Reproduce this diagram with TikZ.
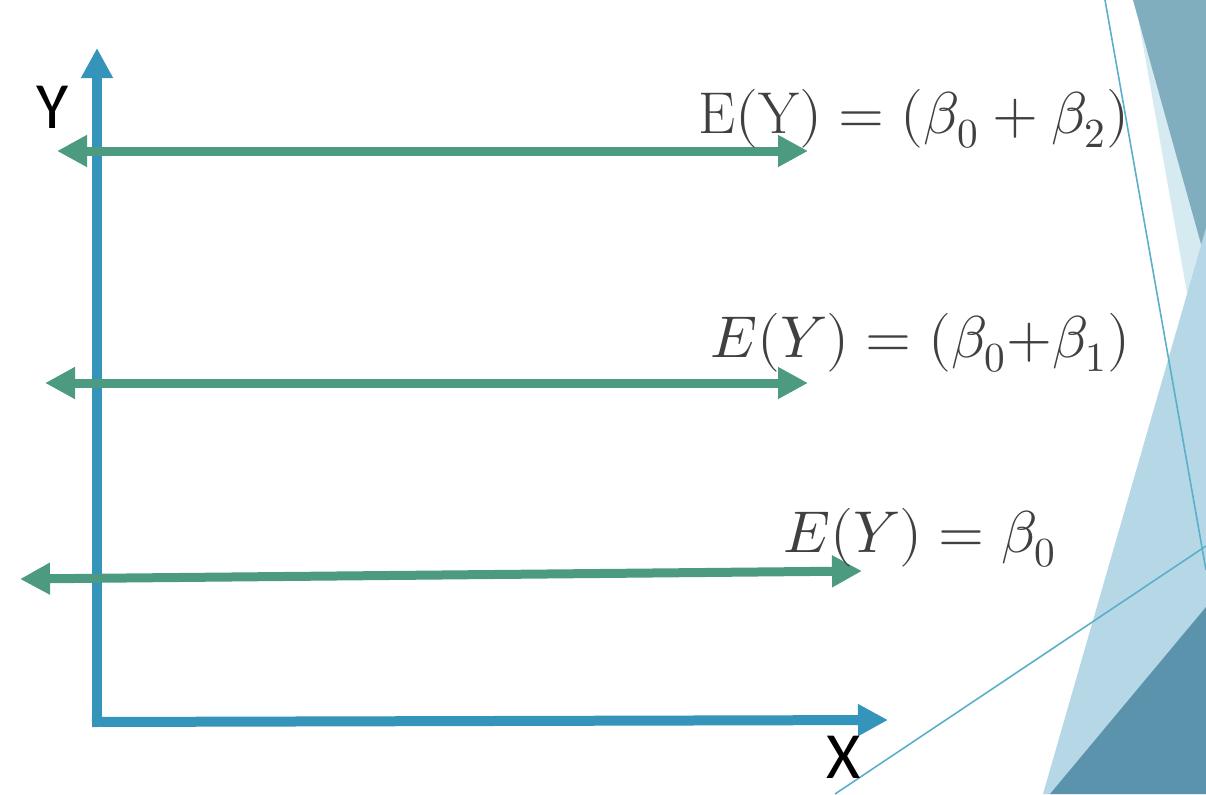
\documentclass[tikz,border=0pt]{standalone}
\usepackage{fontspec}
\usepackage{amsmath}
\usepackage{unicode-math}
\usetikzlibrary{arrows.meta}
\usetikzlibrary{positioning}
\setmathfont{Latin Modern Math}
\newfontfamily\axisfont{Carlito}
\definecolor{axisblue}{RGB}{52,148,186}
\definecolor{levelgreen}{RGB}{76,155,128}
\definecolor{eqgray}{RGB}{64,64,64}
\definecolor{facetdark}{RGB}{128,174,191}
\definecolor{facetpale}{RGB}{214,234,241}
\definecolor{facetlight}{RGB}{182,216,230}
\definecolor{facetdeep}{RGB}{91,147,173}
\definecolor{facetline}{RGB}{91,175,203}
\tikzset{%
  axisline/.style={draw=axisblue,line width=5pt,-{Triangle[length=15pt,width=15pt]}}
}
\tikzset{%
  levelline/.style={draw=levelgreen,line width=4.5pt,{Triangle[length=15pt,width=15pt]}-{Triangle[length=15pt,width=15pt]}}
}
\tikzset{%
  eqlabel/.style={text=eqgray,font=\fontsize{29.5}{34}\selectfont,inner sep=0pt}
}
\newcommand\axistext{\axisfont\fontsize{33}{38}\selectfont}
\begin{document}
\begin{tikzpicture}[x=0.5pt,y=-0.5pt]
            \useasboundingbox (0,0) rectangle (1206,794);
            % facets on the right
            \fill[facetpale] (1135,0) -- (1206,0) -- (1206,400) -- cycle;
            \fill[facetdark] (1133,0) -- (1206,0) -- (1206,262) -- cycle;
            \fill[facetlight] (1206,228) -- (1206,794) -- (1043,794) -- cycle;
            \fill[facetdeep] (1206,607) -- (1206,794) -- (1050,794) -- cycle;
            \draw[facetline,line width=0.8pt] (1105,0) -- (1206,570);
            \draw[facetline,line width=0.8pt] (835,794) -- (1206,546);

            % axes
            \coordinate (origin) at (97,722);
            \coordinate (ytop) at (97,48);
            \coordinate (xstart) at (92,722);
            \coordinate (xend) at (888,720);
            \draw[axisline] (origin) -- (ytop);
            \draw[axisline] (xstart) -- (xend);
            \node[anchor=base west,inner sep=0pt](ylabel) at (36,128){\axistext Y};
            \node[anchor=base west,inner sep=0pt](xlabel) at (826,778){\axistext X};

            % levels
            \coordinate (topl) at (57,151);
            \coordinate (topr) at (808,151);
            \coordinate (midl) at (45,383);
            \coordinate (midr) at (808,383);
            \coordinate (lowl) at (20,579);
            \coordinate (lowr) at (862,571);
            \draw[levelline] (topl) -- (topr);
            \draw[levelline] (midl) -- (midr);
            \draw[levelline] (lowl) -- (lowr);

            \node[eqlabel,anchor=base west](toplabel) at (698,133){$\mathrm{E}(\mathrm{Y}) = (\beta_0 + \beta_2)$};
            \node[eqlabel,anchor=base west](midlabel) at (710,357){$E(Y) = (\beta_0{+}\beta_1)$};
            \node[eqlabel,anchor=base west](lowlabel) at (783,552){$E(Y) = \beta_0$};
        \end{tikzpicture}
\end{document}
